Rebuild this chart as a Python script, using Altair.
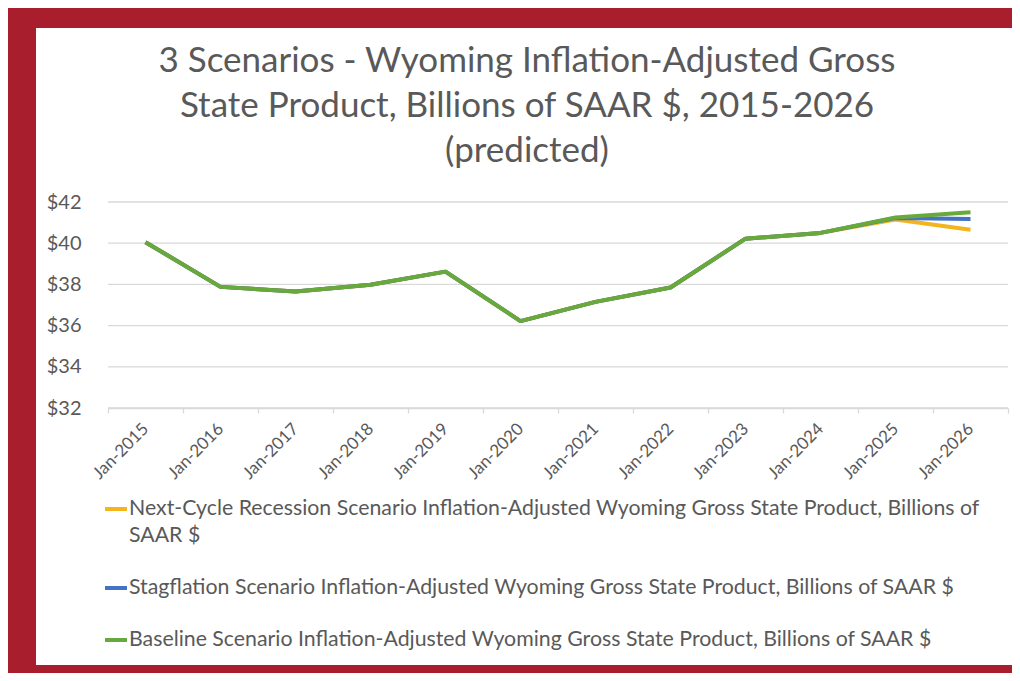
import altair as alt
import pandas as pd

# ---- data ----
dates = ["Jan-2015", "Jan-2016", "Jan-2017", "Jan-2018", "Jan-2019", "Jan-2020",
         "Jan-2021", "Jan-2022", "Jan-2023", "Jan-2024", "Jan-2025", "Jan-2026"]
recession = [40.05, 37.88, 37.65, 37.98, 38.62, 36.22, 37.15, 37.85, 40.22, 40.50, 41.15, 40.65]
stagflation = [40.05, 37.88, 37.65, 37.98, 38.62, 36.22, 37.15, 37.85, 40.22, 40.50, 41.22, 41.18]
baseline = [40.05, 37.88, 37.65, 37.98, 38.62, 36.22, 37.15, 37.85, 40.22, 40.50, 41.25, 41.50]

series_names = [
    "Next-Cycle Recession Scenario Inflation-Adjusted Wyoming Gross State Product, Billions of SAAR $",
    "Stagflation Scenario Inflation-Adjusted Wyoming Gross State Product, Billions of SAAR $",
    "Baseline Scenario Inflation-Adjusted Wyoming Gross State Product, Billions of SAAR $",
]
series_colors = ["#F4B41C", "#4472C4", "#68A93C"]
y_ticks = [32, 34, 36, 38, 40, 42]
title_lines = [
    "3 Scenarios - Wyoming Inflation-Adjusted Gross",
    "State Product, Billions of SAAR $, 2015-2026",
    "(predicted)",
]

rows = []
for name, vals in zip(series_names, [recession, stagflation, baseline]):
    for d, v in zip(dates, vals):
        rows.append({"date": d, "value": v, "series": name})
df = pd.DataFrame(rows)
grid_df = pd.DataFrame({"value": y_ticks})
one_df = pd.DataFrame({"k": [0]})

TXT = "#595959"
GRID = "#D9D9D9"
RED = "#A81E2D"

W, H = 900, 206
PAD = {"left": 100, "top": 194, "right": 4, "bottom": 265}

first_label = series_names[0]
wrap_expr = (
    "datum.label == '" + first_label + "' ? ['"
    + first_label.replace(" SAAR $", "") + "', 'SAAR $'] : datum.label"
)

x_enc = alt.X(
    "date:O", sort=dates,
    scale=alt.Scale(type="band", paddingInner=0, paddingOuter=0),
    axis=alt.Axis(title=None, labelAngle=-45, labelAlign="right", labelBaseline="middle",
                  labelFontSize=17, labelColor=TXT, domainColor=GRID, domainWidth=1.3,
                  tickColor=GRID, tickWidth=1.3, tickSize=5, tickBand="extent",
                  labelPadding=13, grid=False, zindex=1),
)
y_enc = alt.Y(
    "value:Q",
    scale=alt.Scale(domain=[32, 42], nice=False, zero=False),
    axis=alt.Axis(title=None, values=y_ticks, format="$.0f", labelFontSize=20,
                  labelColor=TXT, domain=False, ticks=False, grid=False,
                  labelPadding=27, zindex=1),
)

# red frame (left, top, bottom) and white card inside it
frame = alt.Chart(one_df).mark_rect(color=RED).encode(
    x=alt.value(-PAD["left"]), x2=alt.value(W + PAD["right"]),
    y=alt.value(-PAD["top"]), y2=alt.value(H + PAD["bottom"]),
)
card = alt.Chart(one_df).mark_rect(color="white").encode(
    x=alt.value(-72), x2=alt.value(W + PAD["right"]),
    y=alt.value(-174), y2=alt.value(H + 257),
)

title = alt.Chart(one_df).mark_text(
    fontSize=35, lineHeight=45, align="center", baseline="alphabetic", color=TXT, font="Lato",
).encode(x=alt.value(419), y=alt.value(-130), text=alt.value(title_lines))

grid = alt.Chart(grid_df).mark_rule(color=GRID, strokeWidth=1.3).encode(y=y_enc)

color_enc = alt.Color(
    "series:N",
    scale=alt.Scale(domain=series_names, range=series_colors),
    sort=series_names,
    legend=alt.Legend(
        title=None, orient="none", legendX=-5, legendY=294, direction="vertical",
        symbolType="stroke", symbolStrokeWidth=4, symbolSize=484,
        labelFontSize=21.3, labelColor=TXT, labelLimit=1000, labelOffset=0,
        rowPadding=28, padding=0, labelExpr=wrap_expr,
    ),
)

lines = []
for name in series_names:
    lines.append(
        alt.Chart(df).transform_filter(alt.datum.series == name)
        .mark_line(strokeWidth=4, strokeJoin="round")
        .encode(x=x_enc, y=y_enc, color=color_enc)
    )

chart = alt.layer(frame, card, title, grid, *lines).properties(
    width=W, height=H,
    padding=PAD,
    autosize=alt.AutoSizeParams(type="none"),
    background="white",
).configure(
    font="Lato",
    style={"guide-label": {"lineHeight": 27}},
).configure_view(stroke=None)

chart.save("out.html", embed_options={"renderer": "svg", "actions": False})
